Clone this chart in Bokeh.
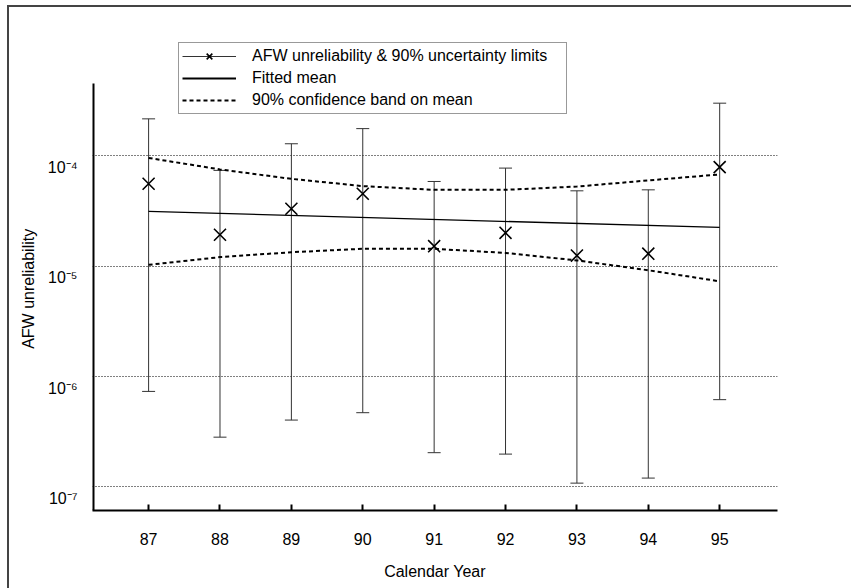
from bokeh.plotting import figure
from bokeh.models import (Range1d, FixedTicker, Whisker, TeeHead, ColumnDataSource,
                          Legend, LegendItem, InlineStyleSheet)
from bokeh.embed import file_html
from bokeh.resources import INLINE

# ---- data ----
years = [87, 88, 89, 90, 91, 92, 93, 94, 95]
afw_unreliability = [5.6e-5, 1.93e-5, 3.32e-5, 4.54e-5, 1.52e-5, 2.01e-5, 1.25e-5, 1.30e-5, 7.92e-5]
upper_limit = [2.17e-4, 7.4e-5, 1.29e-4, 1.77e-4, 5.87e-5, 7.76e-5, 4.83e-5, 4.93e-5, 3.01e-4]
lower_limit = [7.33e-7, 2.82e-7, 4.03e-7, 4.70e-7, 2.04e-7, 1.98e-7, 1.08e-7, 1.20e-7, 6.17e-7]
fit_years = [87, 95]
fitted_mean = [3.14e-5, 2.25e-5]
band_upper = [9.6e-5, 7.55e-5, 6.2e-5, 5.33e-5, 4.93e-5, 4.93e-5, 5.28e-5, 6.0e-5, 6.8e-5]
band_lower = [1.03e-5, 1.21e-5, 1.34e-5, 1.44e-5, 1.44e-5, 1.32e-5, 1.13e-5, 9.2e-6, 7.3e-6]
y_ticks = [1e-7, 1e-6, 1e-5, 1e-4]
y_tick_labels = ["10\u207b\u2077", "10\u207b\u2076", "10\u207b\u2075", "10\u207b\u2074"]
x_ticks = years
x_tick_labels = ["87", "88", "89", "90", "91", "92", "93", "94", "95"]

FONT = "Liberation Sans"
X_START, X_END = 86.214, 95.81
Y_START, Y_END = 6.1e-8, 1.114e-3     # frame runs above the axis top so the legend fits
Y_AXIS_TOP = 4.54e-4                  # where the drawn y-axis line stops
DECADE_PX = 110.3
LABEL_DROP_PX = 11.5                  # tick labels sit a little below their grid lines
NAN = float("nan")

p = figure(width=851, height=588, y_axis_type="log",
           x_range=Range1d(X_START, X_END), y_range=Range1d(Y_START, Y_END),
           output_backend="svg", toolbar_location=None,
           min_border_left=92, min_border_right=74, min_border_top=40, min_border_bottom=78)
p.outline_line_color = None
p.background_fill_color = "white"
p.border_fill_color = "white"

for ax in (p.xaxis[0], p.yaxis[0]):
    ax.minor_tick_line_color = None
    ax.axis_label_text_font = FONT
    ax.axis_label_text_font_size = "16px"
    ax.axis_label_text_font_style = "normal"
    ax.axis_label_text_color = "black"
    ax.major_label_text_font = FONT
    ax.major_label_text_font_size = "16px"
    ax.major_label_text_color = "black"

p.xaxis.axis_line_width = 2
p.xaxis.axis_line_color = "black"
p.xaxis.ticker = FixedTicker(ticks=x_ticks, minor_ticks=[])
p.xaxis.major_label_overrides = {t: s for t, s in zip(x_ticks, x_tick_labels)}
p.xaxis.major_tick_in = 6
p.xaxis.major_tick_out = 0
p.xaxis.major_tick_line_width = 2
p.xaxis.major_tick_line_color = "black"
p.xaxis.major_label_standoff = 22
p.xaxis.axis_label = "Calendar Year"
p.xaxis.axis_label_standoff = 15

# y axis: labels placed slightly below each decade, as in the reference
drop = 10 ** (-LABEL_DROP_PX / DECADE_PX)
label_pos = [t * drop for t in y_ticks]
p.yaxis.axis_line_color = None
p.yaxis.ticker = FixedTicker(ticks=label_pos, minor_ticks=[])
p.yaxis.major_tick_line_color = None
p.yaxis.major_tick_in = 0
p.yaxis.major_tick_out = 0
p.yaxis.major_label_overrides = {lp: s for lp, s in zip(label_pos, y_tick_labels)}
p.yaxis.major_label_standoff = 15
# non-breaking spaces push the rotated title down to where the reference has it
p.yaxis.axis_label = "AFW unreliability" + "\u00a0" * 6
p.yaxis.axis_label_standoff = 8

p.xgrid.grid_line_color = None
p.ygrid.ticker = FixedTicker(ticks=y_ticks, minor_ticks=[])
p.ygrid.grid_line_color = "black"
p.ygrid.grid_line_dash = "1 2"
p.ygrid.grid_line_width = 1

# y-axis line (stops below the legend like the reference)
p.segment(x0=[X_START], y0=[Y_START], x1=[X_START], y1=[Y_AXIS_TOP],
          line_color="black", line_width=4)

# error bars
src = ColumnDataSource(dict(x=years, y=afw_unreliability, upper=upper_limit, lower=lower_limit))
whisk = Whisker(base="x", upper="upper", lower="lower", source=src,
                line_color="#333333", line_width=1,
                upper_head=TeeHead(size=13, line_color="#333333", line_width=1),
                lower_head=TeeHead(size=13, line_color="#333333", line_width=1))
p.add_layout(whisk)

fit_r = p.line(fit_years, fitted_mean, line_color="black", line_width=1.3)
bu = p.line(years, band_upper, line_color="black", line_width=2, line_dash="4 3")
bl = p.line(years, band_lower, line_color="black", line_width=2, line_dash="4 3")
sc = p.scatter("x", "y", source=src, marker="x", size=17, line_color="black", line_width=1.6)

# legend-only sample glyphs (nothing drawn in the plot area)
err_proxy = p.line(x=[NAN], y=[NAN], line_color="#333333", line_width=1)
fit_proxy = p.line(x=[NAN], y=[NAN], line_color="black", line_width=2)

legend = Legend(items=[
    LegendItem(label="AFW unreliability & 90% uncertainty limits", renderers=[err_proxy, sc]),
    LegendItem(label="Fitted mean", renderers=[fit_proxy]),
    LegendItem(label="90% confidence band on mean", renderers=[bu]),
], location=(86, 396))
legend.label_text_font = FONT
legend.label_text_font_size = "16px"
legend.label_text_color = "black"
legend.padding = 3
legend.spacing = 2
legend.margin = 0
legend.glyph_width = 54
legend.glyph_height = 20
legend.label_height = 20
legend.label_standoff = 16
legend.label_width = 311
legend.border_line_color = "#333333"
legend.border_line_width = 1.5
legend.background_fill_color = "white"
legend.background_fill_alpha = 1
p.add_layout(legend)

# thin outer frame on the left and top edges of the picture
p.stylesheets = [InlineStyleSheet(css="""
:host { position: relative; }
:host::after {
  content: ""; position: absolute; left: 7px; top: 5px; right: -4px; bottom: -4px;
  border-left: 2px solid #444444; border-top: 2px solid #444444;
  pointer-events: none; z-index: 10;
}
""")]

open("out.html", "w").write(file_html(p, INLINE))
